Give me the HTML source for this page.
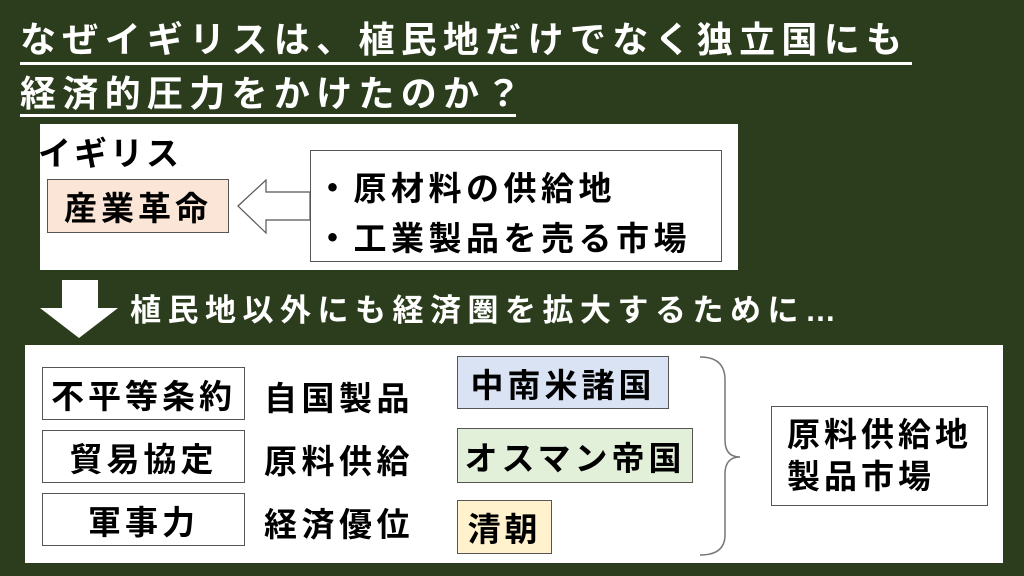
<!DOCTYPE html>
<html><head><meta charset="utf-8"><style>
body{margin:0;width:1024px;height:576px;background:#2b3d1c;position:relative;overflow:hidden;font-family:"Liberation Sans","Noto Sans CJK JP",sans-serif;font-weight:bold;}
.a{position:absolute;white-space:nowrap;}
.t{color:#fff;font-size:36px;letter-spacing:6.3px;line-height:40px;}
.u{position:absolute;height:3px;background:#fff;}
.box{position:absolute;box-sizing:border-box;border:1.5px solid #555;background:#fff;}
.c{display:flex;align-items:center;justify-content:center;font-size:33px;color:#000;letter-spacing:4px;}
.k{font-size:33px;color:#000;letter-spacing:4.5px;}
</style></head><body>
<div class="a t" style="left:20px;top:20px">なぜイギリスは、植民地だけでなく独立国にも</div>
<div class="u" style="left:20px;top:62px;width:892px"></div>
<div class="a t" style="left:20px;top:74px">経済的圧力をかけたのか？</div>
<div class="u" style="left:20px;top:114px;width:496px"></div>

<div class="box" style="left:40px;top:124px;width:698px;height:146px;border:none"></div>
<div class="a k" style="left:38px;top:127px;letter-spacing:3px">イギリス</div>
<div class="box c" style="left:47px;top:179px;width:182px;height:54px;background:#fbe5d6">産業革命</div>
<div class="box" style="left:310px;top:150px;width:412px;height:112px"></div>
<div class="a k" style="left:316px;top:162px">・原材料の供給地</div>
<div class="a k" style="left:316px;top:212px">・工業製品を売る市場</div>

<div class="a" style="left:130px;top:285px;color:#fff;font-size:31px;letter-spacing:6.5px">植民地以外にも経済圏を拡大するために…</div>

<div class="box" style="left:25px;top:345px;width:978px;height:218px;border:none"></div>
<div class="box c" style="left:42px;top:367px;width:203px;height:53px">不平等条約</div>
<div class="box c" style="left:42px;top:430px;width:203px;height:53px">貿易協定</div>
<div class="box c" style="left:42px;top:493px;width:203px;height:53px">軍事力</div>
<div class="a k" style="left:264px;top:372px">自国製品</div>
<div class="a k" style="left:264px;top:435px">原料供給</div>
<div class="a k" style="left:264px;top:498px">経済優位</div>
<div class="box c" style="left:457px;top:356px;width:212px;height:53px;background:#dae3f3">中南米諸国</div>
<div class="box c" style="left:457px;top:428px;width:236px;height:55px;background:#e2f0d9">オスマン帝国</div>
<div class="box c" style="left:457px;top:500px;width:95px;height:54px;background:#fff2cc">清朝</div>
<div class="box c" style="left:771px;top:406px;width:217px;height:100px;flex-direction:column;line-height:42px">原料供給地<br>製品市場</div>
<svg class="a" style="left:0;top:0" width="1024" height="576">
<polygon points="238,206 266,180 266,192 310,192 310,220 266,220 266,233" fill="#fff" stroke="#555" stroke-width="1.2"/>
<polygon points="62,280 98,280 98,308 118,308 79,338 40,308 62,308" fill="#fff"/>
<path d="M700,357 Q725,357 725,380 L725,440 Q725,457 740,457 Q725,457 725,474 L725,535 Q725,555 700,555" fill="none" stroke="#777" stroke-width="1.5"/>
</svg>
</body></html>
